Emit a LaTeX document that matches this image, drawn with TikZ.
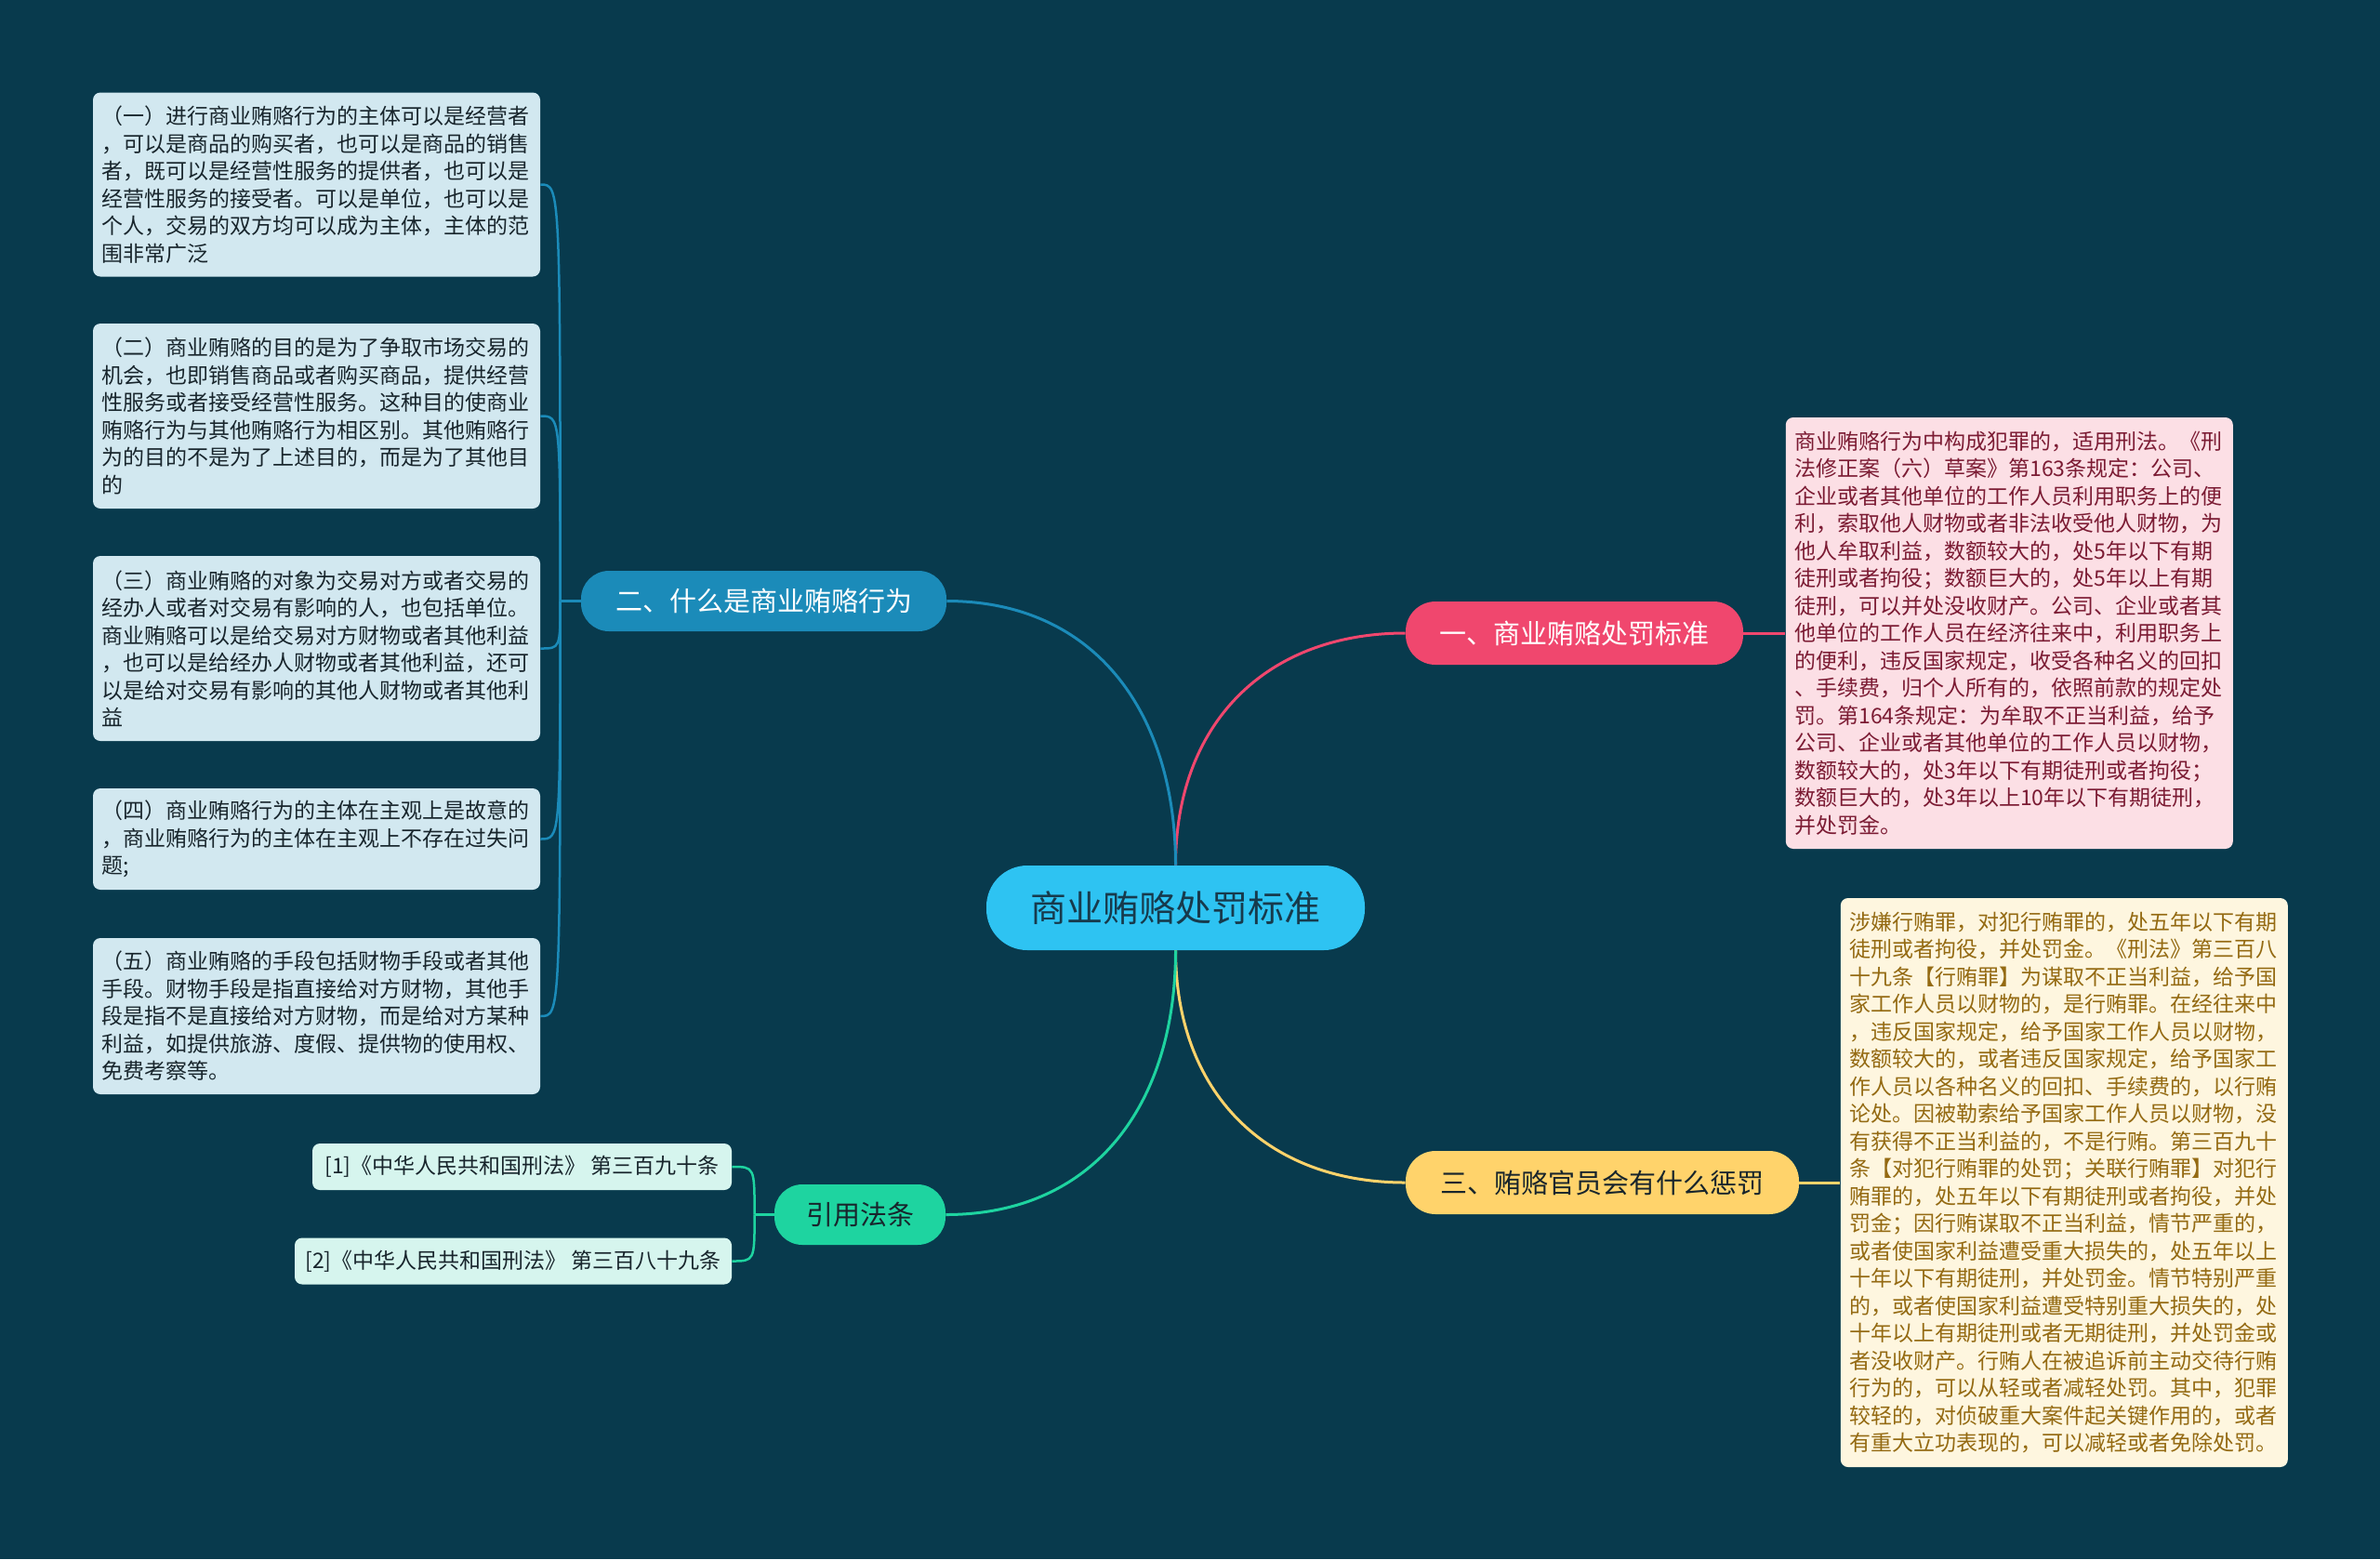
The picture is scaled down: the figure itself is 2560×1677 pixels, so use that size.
\documentclass[tikz,border=0pt]{standalone}
\usepackage{fontspec}
\setmainfont{Noto Sans CJK SC}
\usetikzlibrary{positioning}

\definecolor{fondo}{RGB}{8,58,77}
\definecolor{cielo}{RGB}{46,195,242}
\definecolor{tcentro}{RGB}{23,58,76}
\definecolor{rosa}{RGB}{240,71,110}
\definecolor{azul}{RGB}{27,139,185}
\definecolor{amarillo}{RGB}{255,211,107}
\definecolor{verde}{RGB}{30,212,160}
\definecolor{celeste}{RGB}{210,232,240}
\definecolor{rosado}{RGB}{252,223,229}
\definecolor{crema}{RGB}{254,246,223}
\definecolor{menta}{RGB}{214,245,238}
\definecolor{granate}{RGB}{123,27,51}
\definecolor{dorado}{RGB}{148,106,18}
\definecolor{oscuro}{RGB}{24,37,44}

\begin{document}
\begin{tikzpicture}[x=0.5pt, y=-0.5pt,
	caja/.style={rounded corners=4pt, align=left, text width=231pt, inner xsep=4.75pt, inner ysep=3pt, font=\fontsize{11.5}{14.75}\selectfont},
	rama/.style={rounded corners=15pt, inner sep=0pt, minimum height=33pt, font=\fontsize{14.5}{17}\selectfont},
	cita/.style={rounded corners=4pt, fill=menta, text=oscuro, inner sep=0pt, minimum height=25pt, font=\fontsize{11.5}{14}\selectfont},
	linea/.style={line width=1.5pt},
	fina/.style={line width=1.25pt}]

	% Fondo
	\fill[fondo] (0,0) rectangle (2560,1677);

	% Nodo central y ramas
	\node[fill=cielo, text=tcentro, rounded corners=22pt, minimum width=203.5pt, minimum height=45.5pt, inner sep=0pt, font=\fontsize{19.5}{22}\selectfont] (c) at (1264.5,976.5) {商业贿赂处罚标准};
	\node[rama, fill=rosa, text=white, minimum width=181.5pt, minimum height=34pt, rounded corners=16pt] (n1) at (1693.5,681) {一、商业贿赂处罚标准};
	\node[rama, fill=azul, text=white, minimum width=196.5pt, minimum height=32.5pt] (n2) at (821.5,646.5) {二、什么是商业贿赂行为};
	\node[rama, fill=amarillo, text=oscuro, minimum width=211.5pt, minimum height=34pt, rounded corners=16pt] (n3) at (1723.5,1272) {三、贿赂官员会有什么惩罚};
	\node[rama, fill=verde, text=oscuro, minimum width=92pt, minimum height=32.5pt] (n4) at (925,1306.5) {引用法条};

	% Cajas de la izquierda
	\node[caja, fill=celeste, text=oscuro, minimum height=99pt] (l1) at (340.5,198.5) {（一）进行商业贿赂行为的主体可以是经营者\\，可以是商品的购买者，也可以是商品的销售\\者，既可以是经营性服务的提供者，也可以是\\经营性服务的接受者。可以是单位，也可以是\\个人，交易的双方均可以成为主体，主体的范\\围非常广泛};
	\node[caja, fill=celeste, text=oscuro, minimum height=99.5pt] (l2) at (340.5,447.5) {（二）商业贿赂的目的是为了争取市场交易的\\机会，也即销售商品或者购买商品，提供经营\\性服务或者接受经营性服务。这种目的使商业\\贿赂行为与其他贿赂行为相区别。其他贿赂行\\为的目的不是为了上述目的，而是为了其他目\\的};
	\node[caja, fill=celeste, text=oscuro, minimum height=99.5pt] (l3) at (340.5,697.5) {（三）商业贿赂的对象为交易对方或者交易的\\经办人或者对交易有影响的人，也包括单位。\\商业贿赂可以是给交易对方财物或者其他利益\\，也可以是给经办人财物或者其他利益，还可\\以是给对交易有影响的其他人财物或者其他利\\益};
	\node[caja, fill=celeste, text=oscuro, minimum height=54.5pt] (l4) at (340.5,902.5) {（四）商业贿赂行为的主体在主观上是故意的\\，商业贿赂行为的主体在主观上不存在过失问\\题;};
	\node[caja, fill=celeste, text=oscuro, minimum height=84pt] (l5) at (340.5,1093) {（五）商业贿赂的手段包括财物手段或者其他\\手段。财物手段是指直接给对方财物，其他手\\段是指不是直接给对方财物，而是给对方某种\\利益，如提供旅游、度假、提供物的使用权、\\免费考察等。};

	% Cajas de la derecha
	\node[caja, fill=rosado, text=granate, minimum height=232pt, right=22.5pt of n1] (d1) {商业贿赂行为中构成犯罪的，适用刑法。《刑\\法修正案（六）草案》第163条规定：公司、\\企业或者其他单位的工作人员利用职务上的便\\利，索取他人财物或者非法收受他人财物，为\\他人牟取利益，数额较大的，处5年以下有期\\徒刑或者拘役；数额巨大的，处5年以上有期\\徒刑，可以并处没收财产。公司、企业或者其\\他单位的工作人员在经济往来中，利用职务上\\的便利，违反国家规定，收受各种名义的回扣\\、手续费，归个人所有的，依照前款的规定处\\罚。第164条规定：为牟取不正当利益，给予\\公司、企业或者其他单位的工作人员以财物，\\数额较大的，处3年以下有期徒刑或者拘役；\\数额巨大的，处3年以上10年以下有期徒刑，\\并处罚金。};
	\node[caja, fill=crema, text=dorado, minimum height=306pt, right=22pt of n3] (d3) {涉嫌行贿罪，对犯行贿罪的，处五年以下有期\\徒刑或者拘役，并处罚金。《刑法》第三百八\\十九条【行贿罪】为谋取不正当利益，给予国\\家工作人员以财物的，是行贿罪。在经往来中\\，违反国家规定，给予国家工作人员以财物，\\数额较大的，或者违反国家规定，给予国家工\\作人员以各种名义的回扣、手续费的，以行贿\\论处。因被勒索给予国家工作人员以财物，没\\有获得不正当利益的，不是行贿。第三百九十\\条【对犯行贿罪的处罚；关联行贿罪】对犯行\\贿罪的，处五年以下有期徒刑或者拘役，并处\\罚金；因行贿谋取不正当利益，情节严重的，\\或者使国家利益遭受重大损失的，处五年以上\\十年以下有期徒刑，并处罚金。情节特别严重\\的，或者使国家利益遭受特别重大损失的，处\\十年以上有期徒刑或者无期徒刑，并处罚金或\\者没收财产。行贿人在被追诉前主动交待行贿\\行为的，可以从轻或者减轻处罚。其中，犯罪\\较轻的，对侦破重大案件起关键作用的，或者\\有重大立功表现的，可以减轻或者免除处罚。};

	% Citas
	\node[cita, minimum width=225.5pt] (r1) at (561.5,1255) {[1]《中华人民共和国刑法》 第三百九十条};
	\node[cita, minimum width=235pt] (r2) at (552,1356.5) {[2]《中华人民共和国刑法》 第三百八十九条};

	% Conexiones principales
	\draw[linea, rosa] (c.north) to[out=90, in=180, looseness=1.1] (n1.west);
	\draw[linea, azul] (c.north) to[out=90, in=0, looseness=1.1] (n2.east);
	\draw[linea, amarillo] (c.south) to[out=-90, in=180, looseness=1.1] (n3.west);
	\draw[linea, verde] (c.south) to[out=-90, in=0, looseness=1.1] (n4.east);

	% Ramas hacia las cajas
	\draw[linea, rosa] (n1.east) -- (d1.west);
	\draw[linea, amarillo] (n3.east) -- (d3.west);

	\coordinate[left=11pt of n2] (h2);
	\draw[fina, azul] (n2.west) -- (h2);
	\foreach \i in {1,...,5} {
		\draw[fina, azul] (h2) .. controls (h2 |- l\i.east) .. (l\i.east);
	}

	\coordinate[left=10.5pt of n4] (h4);
	\draw[fina, verde] (n4.west) -- (h4);
	\foreach \i in {1,2} {
		\draw[fina, verde] (h4) .. controls (h4 |- r\i.east) .. (r\i.east);
	}

\end{tikzpicture}
\end{document}
